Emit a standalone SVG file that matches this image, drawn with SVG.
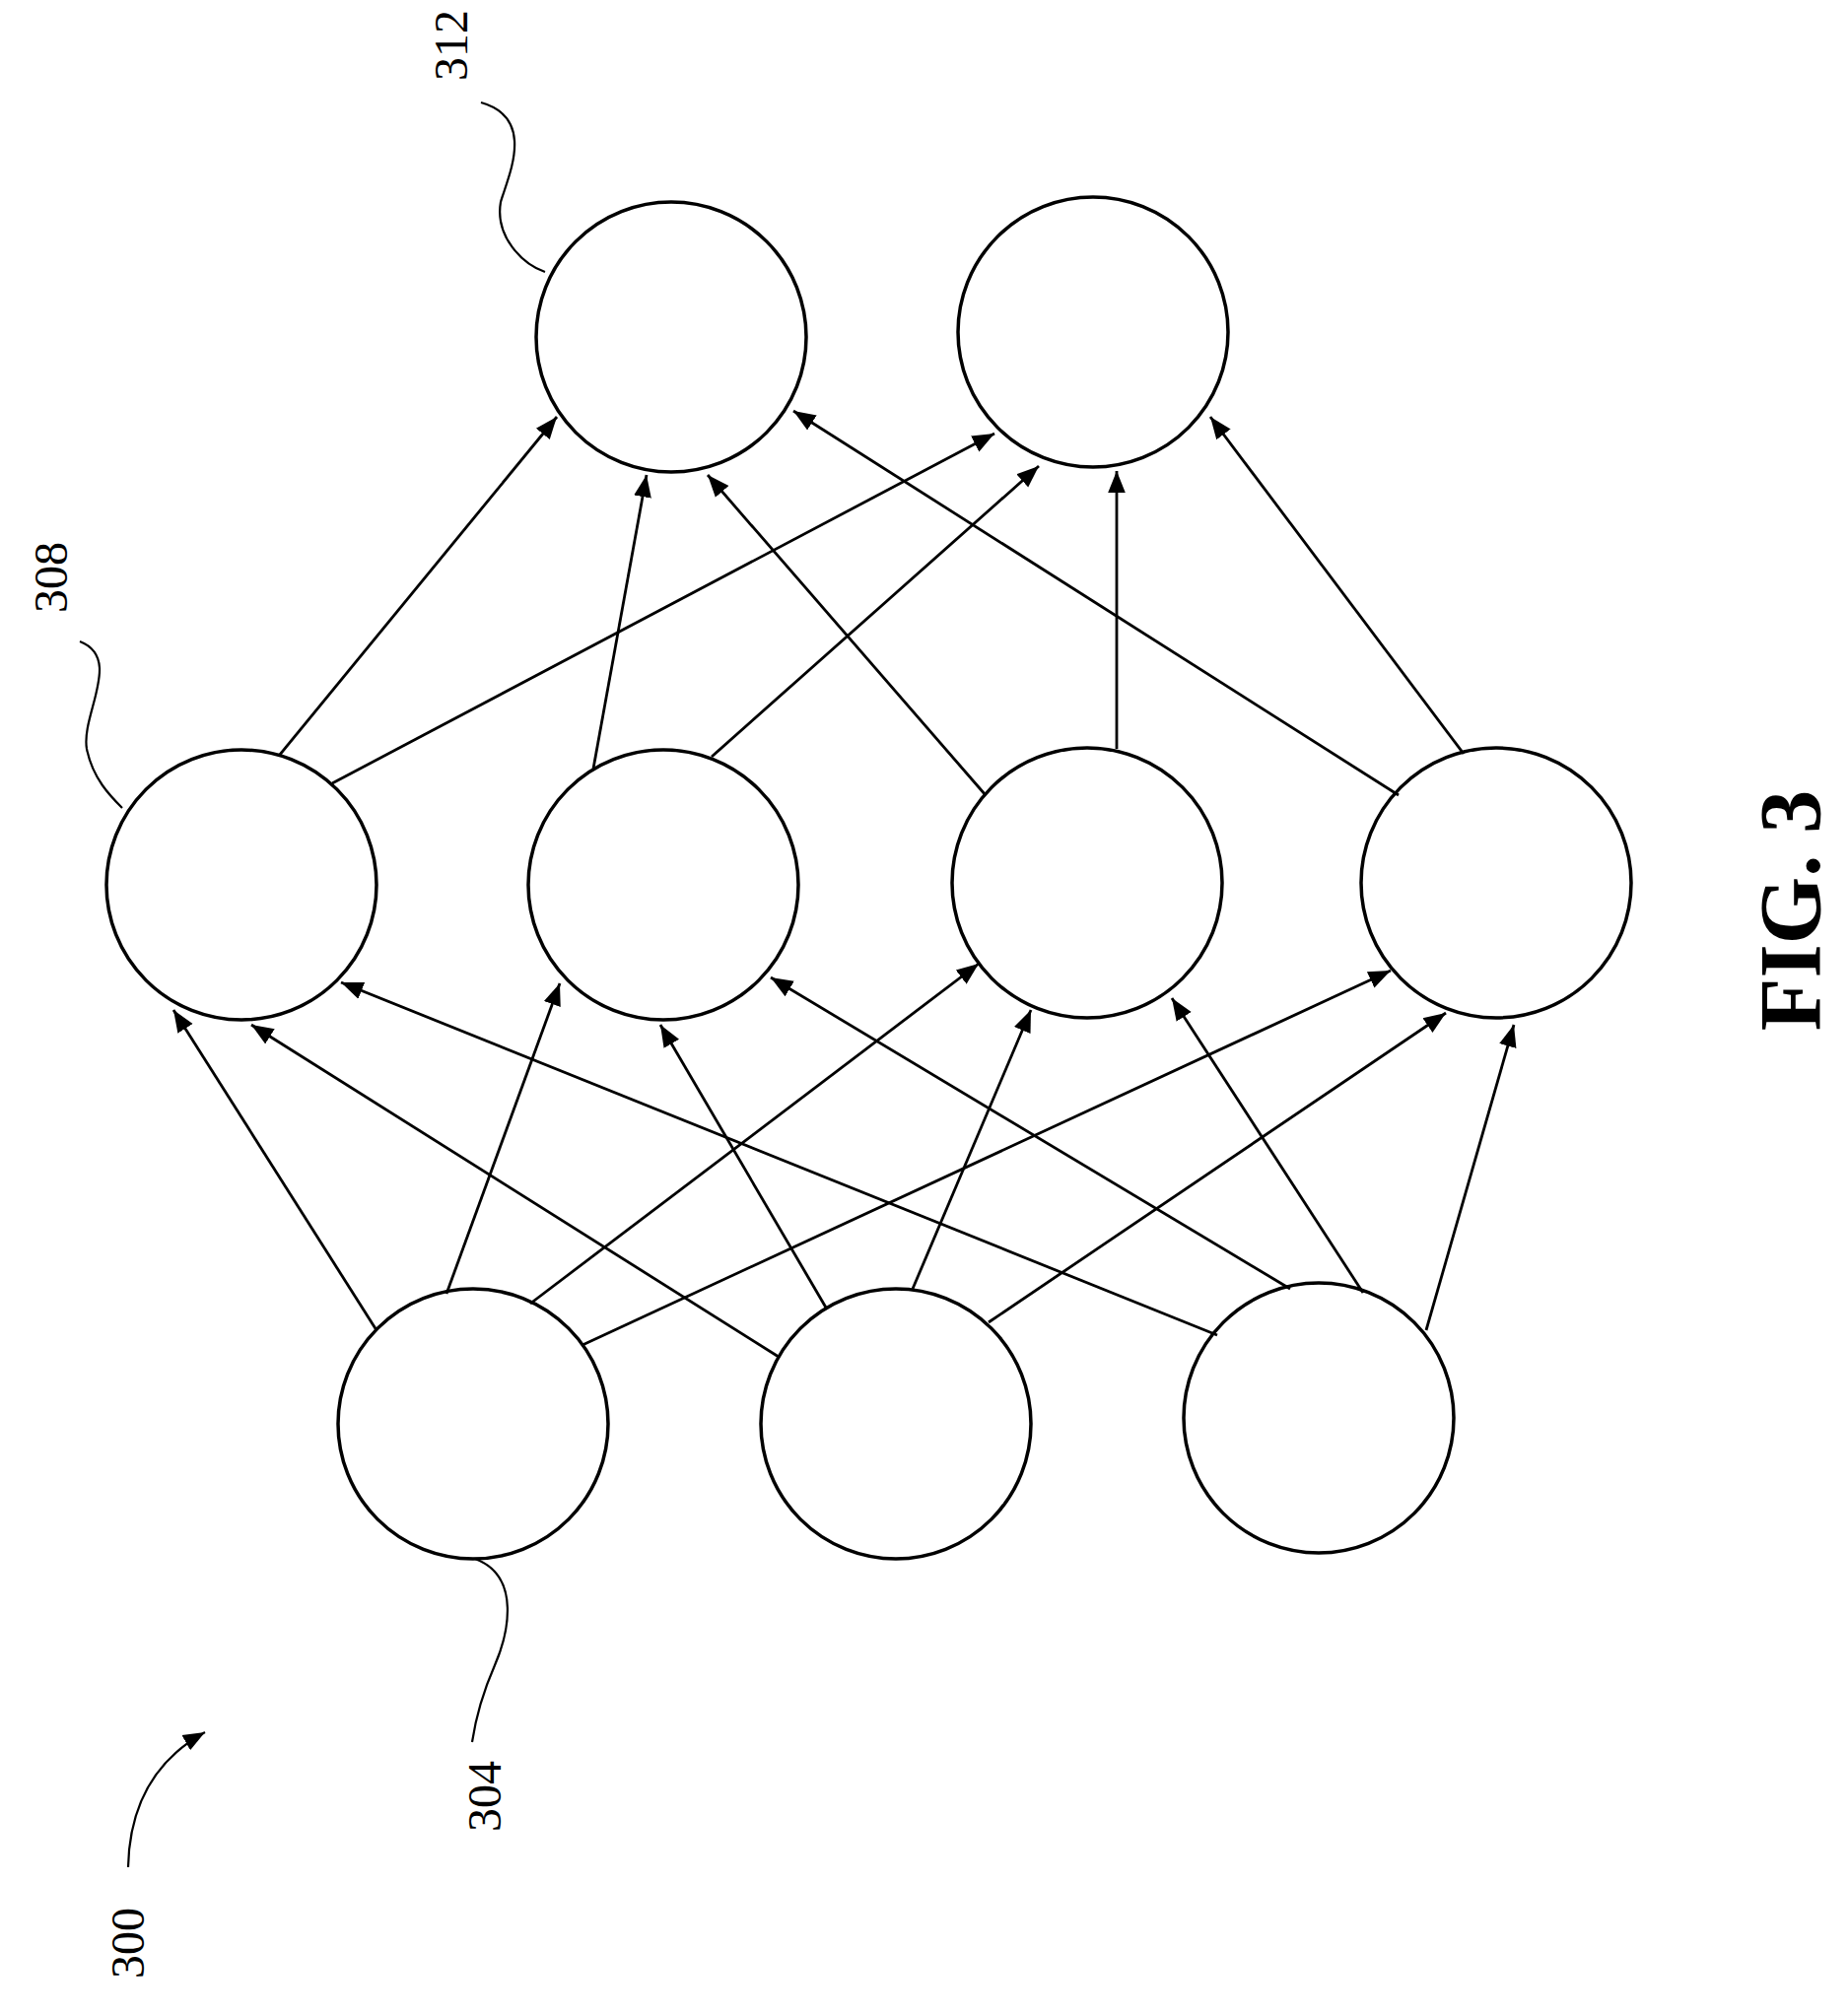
<svg xmlns="http://www.w3.org/2000/svg" width="1875" height="2046" viewBox="0 0 1875 2046">
<style>
.n{fill:none;stroke:#000;stroke-width:3.5}
.e{stroke:#000;stroke-width:2.8;fill:none;marker-end:url(#ah)}
.l{stroke:#000;stroke-width:2.2;fill:none}
.t{font-family:"Liberation Serif",serif;font-size:48px;fill:#000}
</style>
<defs>
<marker id="ah" viewBox="0 0 10 10" refX="10" refY="5" markerWidth="8" markerHeight="8" markerUnits="strokeWidth" orient="auto"><path d="M0,1 L10,5 L0,9 Z" fill="#000"/></marker>
<marker id="ah2" viewBox="0 0 10 10" refX="10" refY="5" markerWidth="10" markerHeight="10" markerUnits="strokeWidth" orient="auto"><path d="M0,1 L10,5 L0,9 Z" fill="#000"/></marker>
</defs>
<rect width="1875" height="2046" fill="#fff"/>
<g id="connectors">
<line class="e" x1="382" y1="1350" x2="176" y2="1025"/>
<line class="e" x1="453" y1="1313" x2="568" y2="998"/>
<line class="e" x1="538" y1="1323" x2="993" y2="978"/>
<line class="e" x1="591" y1="1365" x2="1411" y2="985"/>
<line class="e" x1="790" y1="1377" x2="255" y2="1040"/>
<line class="e" x1="838" y1="1327" x2="670" y2="1040"/>
<line class="e" x1="926" y1="1308" x2="1046" y2="1025"/>
<line class="e" x1="1003" y1="1342" x2="1467" y2="1028"/>
<line class="e" x1="1235" y1="1355" x2="346" y2="997"/>
<line class="e" x1="1309" y1="1308" x2="782" y2="992"/>
<line class="e" x1="1383" y1="1312" x2="1189" y2="1013"/>
<line class="e" x1="1447" y1="1350" x2="1536" y2="1040"/>
<line class="e" x1="283" y1="767" x2="565" y2="423"/>
<line class="e" x1="337" y1="795" x2="1009" y2="440"/>
<line class="e" x1="602" y1="780" x2="656" y2="482"/>
<line class="e" x1="722" y1="768" x2="1054" y2="473"/>
<line class="e" x1="1000" y1="807" x2="718" y2="482"/>
<line class="e" x1="1133" y1="760" x2="1133" y2="478"/>
<line class="e" x1="1419" y1="807" x2="805" y2="417"/>
<line class="e" x1="1485" y1="765" x2="1228" y2="423"/>
</g>
<g id="t1"><circle class="n" cx="681" cy="342" r="137"/></g>
<g id="t2"><circle class="n" cx="1109" cy="337" r="137"/></g>
<g id="m1"><circle class="n" cx="245" cy="898" r="137"/></g>
<g id="m2"><circle class="n" cx="673" cy="898" r="137"/></g>
<g id="m3"><circle class="n" cx="1103" cy="896" r="137"/></g>
<g id="m4"><circle class="n" cx="1518" cy="896" r="137"/></g>
<g id="b1"><circle class="n" cx="480" cy="1445" r="137"/></g>
<g id="b2"><circle class="n" cx="909" cy="1445" r="137"/></g>
<g id="b3"><circle class="n" cx="1338" cy="1439" r="137"/></g>
<g id="labels">
<path class="l" d="M488,104 C545,120 515,180 508,205 C502,240 530,268 553,276"/>
<text class="t" transform="translate(474,46) rotate(-90)" text-anchor="middle">312</text>
<path class="l" d="M81,651 C125,668 82,725 88,760 C94,790 112,808 124,820"/>
<text class="t" transform="translate(68,586) rotate(-90)" text-anchor="middle">308</text>
<path class="l" d="M482,1582 C530,1600 515,1660 502,1690 C488,1722 482,1748 479,1768"/>
<text class="t" transform="translate(508,1823) rotate(-90)" text-anchor="middle">304</text>
<path class="l" d="M130,1895 Q132,1800 208,1758" marker-end="url(#ah2)"/>
<text class="t" transform="translate(146,1972) rotate(-90)" text-anchor="middle">300</text>
<text transform="translate(1846,924) rotate(-90)" text-anchor="middle" font-family="Liberation Serif,serif" font-weight="bold" font-size="88">FIG. 3</text>
</g>
</svg>
